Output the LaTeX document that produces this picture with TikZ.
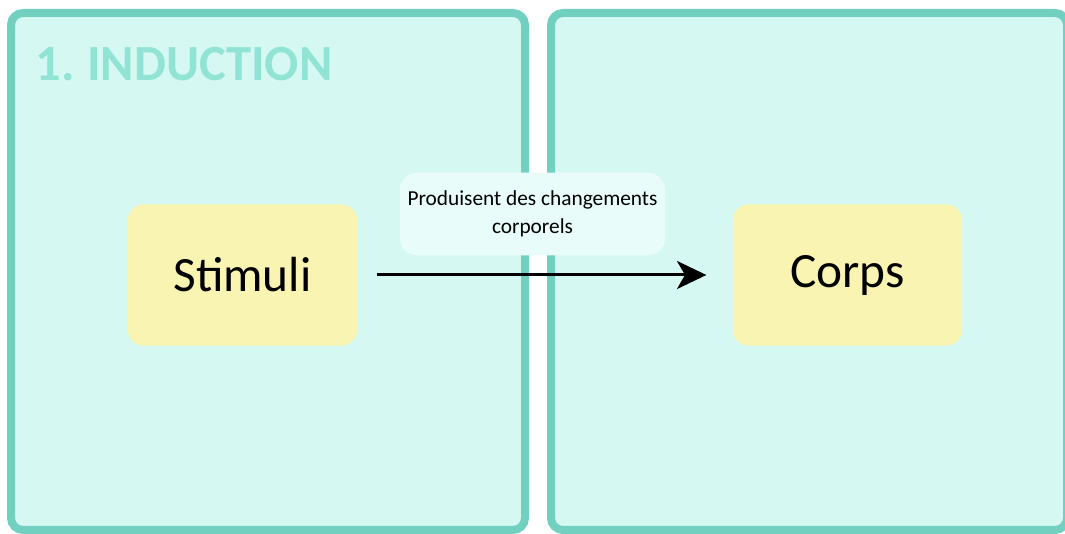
\documentclass[tikz,border=0pt]{standalone}
\usepackage{fontspec}
\setmainfont{Carlito}
\usetikzlibrary{arrows.meta}

\definecolor{panelline}{RGB}{114,208,192}
\definecolor{panelfill}{RGB}{214,248,243}
\definecolor{titlecol}{RGB}{145,228,212}
\definecolor{boxfill}{RGB}{250,244,178}
\definecolor{labelfill}{RGB}{232,252,249}

\tikzset{every picture/.style={line width=0.75pt}}
\tikzset{
  panel/.style={draw=panelline, fill=panelfill, line width=6pt, rounded corners=9pt},
  concept/.style={fill=boxfill, rounded corners=12pt, minimum width=172pt, minimum height=106pt, inner sep=0pt, font=\fontsize{37}{44}\selectfont},
  linklabel/.style={fill=labelfill, rounded corners=13pt, minimum width=199pt, minimum height=62pt, inner sep=0pt, align=center, font=\fontsize{16}{21}\selectfont},
  link/.style={line width=2.25pt, -{Stealth[length=22pt, width=21pt, inset=6pt]}}
}

\begin{document}
\begin{tikzpicture}[x=0.75pt,y=0.75pt,yscale=-1,xscale=1]
\useasboundingbox (0,0) rectangle (1065,534);
\clip (0,0) rectangle (1065,534);

% Panels
\draw [panel] (11,13) rectangle (525,530);
\draw [panel] (551,13) rectangle (1067,530);

% Text Node
\node (title) [anchor=west, inner sep=0pt, text=titlecol, font=\fontsize{38}{46}\selectfont\bfseries] at (35,64) {1.\kern-2pt{} INDUCTION};

% Concept boxes
\node (stimuli) [concept] at (242.5,275) {Stimuli};
\node (corps) [concept] at (847.5,275) {Corps};

% Link label
\node (changes) [linklabel] at (532.5,214) {Produisent des changements\\corporels};

% Straight Lines
\draw [link] ([xshift=14.25pt]stimuli.east) -- ([xshift=-19.5pt]corps.west);

\end{tikzpicture}
\end{document}
